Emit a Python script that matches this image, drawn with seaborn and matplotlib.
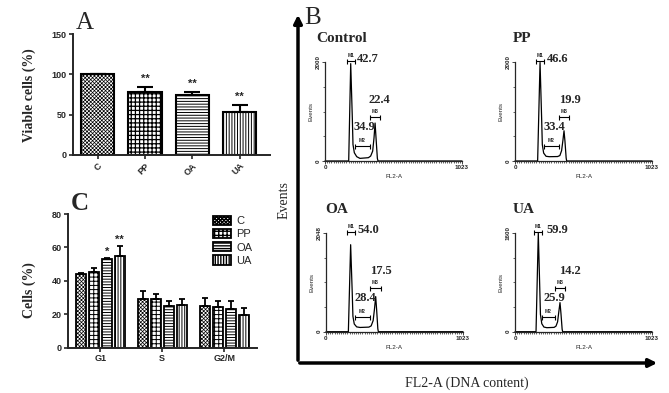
import numpy as np
import pandas as pd
import seaborn as sns
import matplotlib.pyplot as plt
from matplotlib.container import BarContainer
from matplotlib.patches import FancyArrowPatch
from matplotlib.ticker import MultipleLocator

# panel A - viable cells
groups = ['C', 'PP', 'OA', 'UA']
viable = [100, 78.5, 74, 53]
viable_err = [0, 5.5, 3.7, 8.6]
viable_sig = ['', '**', '**', '**']

# panel C - cell cycle distribution
phases = ['G1', 'S', 'G2/M']
cells_g1 = [44, 45, 53, 55]
cells_s = [28.8, 28.8, 24.8, 25.4]
cells_g2m = [25, 24, 23.2, 19.4]
err_g1 = [0.8, 2.8, 0.6, 6]
err_s = [5, 3, 3.2, 3.4]
err_g2m = [4.4, 3.6, 4.6, 4.4]
sig_g1 = ['', '', '*', '**']

# panel B - DNA histograms (FL2-A channel, events)
hist_titles = ['Control', 'PP', 'OA', 'UA']
hist_ymax = [2000, 2000, 2048, 1600]
ctrl_ch = [0, 177, 192, 204, 209, 219, 237, 261, 324, 341, 356, 366, 374, 381, 391, 396, 1023]
ctrl_ev = [0, 0, 1967, 867, 333, 167, 87, 53, 67, 100, 200, 467, 767, 467, 53, 0, 0]
pp_ch = [0, 169, 187, 199, 204, 214, 232, 256, 318, 335, 348, 358, 366, 373, 382, 386, 1023]
pp_ev = [0, 0, 1990, 850, 330, 160, 95, 87, 90, 110, 210, 420, 611, 400, 60, 0, 0]
oa_ch = [0, 167, 184, 196, 201, 211, 229, 254, 320, 337, 352, 362, 371, 378, 387, 391, 1023]
oa_ev = [0, 0, 1805, 800, 320, 160, 100, 88, 95, 120, 230, 470, 729, 460, 60, 0, 0]
ua_ch = [0, 157, 174, 185, 190, 200, 216, 238, 292, 306, 318, 327, 336, 343, 352, 356, 1023]
ua_ev = [0, 0, 1600, 700, 280, 130, 75, 65, 70, 90, 160, 320, 472, 300, 40, 0, 0]
g1_pct = ['42.7', '46.6', '54.0', '59.9']
s_pct = ['34.9', '33.4', '28.4', '25.9']
g2m_pct = ['22.4', '19.9', '17.5', '14.2']

hatches = ['xxxxxxxxx', '++++', '------', '||||||']
SERIF = ['Liberation Serif', 'DejaVu Serif']

sns.set_style('ticks')
plt.rcParams['font.family'] = ['Liberation Sans', 'DejaVu Sans']
plt.rcParams['font.weight'] = 'bold'

fig = plt.figure(figsize=(6.69, 3.93), dpi=100)
W, H = 669, 393


def box(left, top, right, bottom):
    return [left / W, 1 - bottom / H, (right - left) / W, (bottom - top) / H]


def set_hatch(bar, h, lw):
    bar.set_hatch(h)
    bar.set_edgecolor('black')
    if hasattr(bar, 'set_hatch_linewidth'):
        bar.set_hatch_linewidth(lw)


def style_bar_axes(ax):
    for s in ['top', 'right']:
        ax.spines[s].set_visible(False)
    for s in ['left', 'bottom']:
        ax.spines[s].set_linewidth(1.4)
    ax.tick_params(width=1.2, length=3, labelsize=6.5, pad=1.5)
    for lab in ax.get_xticklabels() + ax.get_yticklabels():
        lab.set_fontweight('bold')


# ---- A
axA = fig.add_axes(box(73, 34, 270, 155))
dfA = pd.DataFrame({'group': groups, 'viable': viable})
sns.barplot(data=dfA, x='group', y='viable', ax=axA, width=0.7, color='white',
            edgecolor='black', linewidth=1.5, errorbar=None, saturation=1)
for bar, h, lw in zip(axA.patches, hatches, [0.5, 0.9, 0.7, 0.7]):
    set_hatch(bar, h, lw)
xs = np.arange(len(groups))
axA.errorbar(xs, viable, yerr=[np.zeros(len(groups)), viable_err], fmt='none',
             ecolor='black', elinewidth=1.5, capsize=6, capthick=1.5, zorder=1)
for x, v, e, s in zip(xs, viable, viable_err, viable_sig):
    axA.text(x, v + e + 7, s, ha='center', va='baseline', fontsize=8)
axA.set_ylim(0, 150)
axA.set_yticks([0, 50, 100, 150])
axA.set_xlim(-0.52, 3.64)
axA.set_xlabel('')
axA.set_ylabel('')
style_bar_axes(axA)
for lab in axA.get_xticklabels():
    lab.set_rotation(45)
    lab.set_ha('right')
    lab.set_rotation_mode('anchor')

# ---- C
axC = fig.add_axes(box(68, 214, 257, 347.5))
rows = []
for ph, vals in zip(phases, [cells_g1, cells_s, cells_g2m]):
    for g, v in zip(groups, vals):
        rows.append({'phase': ph, 'group': g, 'cells': v})
dfC = pd.DataFrame(rows)
sns.barplot(data=dfC, x='phase', y='cells', hue='group', ax=axC, width=0.84, gap=0.22,
            palette=['white'] * 4, edgecolor='black', linewidth=1.3, errorbar=None,
            saturation=1)
errs = np.array([err_g1, err_s, err_g2m])
vals = np.array([cells_g1, cells_s, cells_g2m])
bar_conts = [c for c in axC.containers if isinstance(c, BarContainer)]
for gi, cont in enumerate(bar_conts):
    cx = []
    for bar in cont.patches:
        set_hatch(bar, hatches[gi], 0.5 if gi == 0 else 0.7)
        cx.append(bar.get_x() + bar.get_width() / 2)
    axC.errorbar(cx, vals[:, gi], yerr=[np.zeros(3), errs[:, gi]], fmt='none',
                 ecolor='black', elinewidth=1.3, capsize=2.2, capthick=1.3, zorder=1)
    if sig_g1[gi]:
        axC.text(cx[0], vals[0, gi] + errs[0, gi] + 2, sig_g1[gi], ha='center',
                 va='baseline', fontsize=8)
axC.legend(handles=[c.patches[0] for c in bar_conts], labels=groups,
           loc='upper right', bbox_to_anchor=(1.0, 1.02), frameon=False,
           prop={'size': 8, 'weight': 'normal'}, handlelength=1.6, handleheight=0.9,
           labelspacing=0.25, handletextpad=0.5, borderaxespad=0)
axC.set_ylim(0, 80)
axC.set_yticks([0, 20, 40, 60, 80])
axC.set_xlim(-0.52, 2.53)
axC.set_xlabel('')
axC.set_ylabel('')
style_bar_axes(axC)

# ---- B histograms
hist_data = [(ctrl_ch, ctrl_ev), (pp_ch, pp_ev), (oa_ch, oa_ev), (ua_ch, ua_ev)]
hist_boxes = [box(325, 62, 462, 161), box(515, 62, 652, 161),
              box(326, 233, 463, 331.7), box(515, 233, 652, 331.7)]
title_dx = [-0.066, -0.015, -0.007, -0.015]
for i, (ch, ev) in enumerate(hist_data):
    ax = fig.add_axes(hist_boxes[i])
    ymax = hist_ymax[i]
    sns.lineplot(x=ch, y=ev, ax=ax, sort=False, estimator=None, color='black',
                 linewidth=0.9)
    for l in ax.lines:
        l.set_clip_on(False)
    ax.set_xlim(0, 1023)
    ax.set_ylim(0, ymax)
    ax.set_xticks([0, 1023])
    ax.set_yticks([0, ymax])
    ax.xaxis.set_minor_locator(MultipleLocator(16))
    ax.yaxis.set_minor_locator(MultipleLocator(ymax / 4))
    for s in ['top', 'right']:
        ax.spines[s].set_visible(False)
    for s in ['left', 'bottom']:
        ax.spines[s].set_linewidth(0.9)
    ax.tick_params(which='major', length=2, width=0.6, labelsize=4.5, pad=1)
    ax.tick_params(which='minor', length=1.2, width=0.5)
    for lab in ax.get_yticklabels():
        lab.set_rotation(90)
        lab.set_va('center')
    ax.set_xlabel('FL2-A', fontsize=4.5, labelpad=3)
    ax.set_ylabel('Events', fontsize=4.5, labelpad=2)
    # marker brackets
    p1 = ch[int(np.argmax(ev))]
    second = [c for c, e in zip(ch, ev) if c > p1 + 80]
    p2 = ch[ch.index(second[0]) + int(np.argmax(ev[ch.index(second[0]):]))]
    marks = [('M1', p1 - 30, p1 + 30, 1.01), ('M2', p1 + 30, p2 - 40, 0.15),
             ('M3', p2 - 40, p2 + 38, 0.44)]
    for name, a, b, lev in marks:
        ax.errorbar((a + b) / 2, lev * ymax, xerr=(b - a) / 2, fmt='none', ecolor='black',
                    elinewidth=0.8, capsize=1.8, capthick=0.8, clip_on=False)
        ax.text((a + b) / 2, lev * ymax + 0.03 * ymax, name, ha='center', va='bottom',
                fontsize=3.5, clip_on=False)
    ax.text(title_dx[i], 1.24, hist_titles[i], transform=ax.transAxes, ha='left',
            va='center', fontsize=11, family=SERIF, fontweight='bold')
    ax.text(0.31, 1.03, g1_pct[i], transform=ax.transAxes, ha='center', va='center',
            fontsize=9, family=SERIF, fontweight='bold')
    ax.text(0.40, 0.62, g2m_pct[i], transform=ax.transAxes, ha='center', va='center',
            fontsize=9, family=SERIF, fontweight='bold')
    ax.text(0.29, 0.34, s_pct[i], transform=ax.transAxes, ha='center', va='center',
            fontsize=9, family=SERIF, fontweight='bold')

# big axes arrows of panel B
x0, y0 = 298 / W, 1 - 363 / H
fig.add_artist(FancyArrowPatch((x0, y0), (x0, 1 - 12 / H), transform=fig.transFigure,
                               arrowstyle='-|>', mutation_scale=12, lw=2.5, color='black'))
fig.add_artist(FancyArrowPatch((x0 - 1 / W, y0), (660 / W, y0), transform=fig.transFigure,
                               arrowstyle='-|>', mutation_scale=12, lw=2.5, color='black'))

# panel letters and axis titles
fig.text(85 / W, 1 - 23 / H, 'A', ha='center', va='center', fontsize=18, family=SERIF,
         fontweight='normal')
fig.text(313 / W, 1 - 18 / H, 'B', ha='center', va='center', fontsize=18, family=SERIF,
         fontweight='normal')
fig.text(80 / W, 1 - 203 / H, 'C', ha='center', va='center', fontsize=18, family=SERIF,
         fontweight='bold')
fig.text(29 / W, 1 - 95 / H, 'Viable cells (%)', rotation=90, ha='center', va='center',
         fontsize=10, family=SERIF, fontweight='bold')
fig.text(29 / W, 1 - 290 / H, 'Cells (%)', rotation=90, ha='center', va='center',
         fontsize=10, family=SERIF, fontweight='bold')
fig.text(284 / W, 1 - 200 / H, 'Events', rotation=90, ha='center', va='center',
         fontsize=10, family=SERIF, fontweight='normal')
fig.text(467 / W, 1 - 383 / H, 'FL2-A (DNA content)', ha='center', va='center',
         fontsize=10, family=SERIF, fontweight='normal')

fig.savefig('out.png', dpi=100)
